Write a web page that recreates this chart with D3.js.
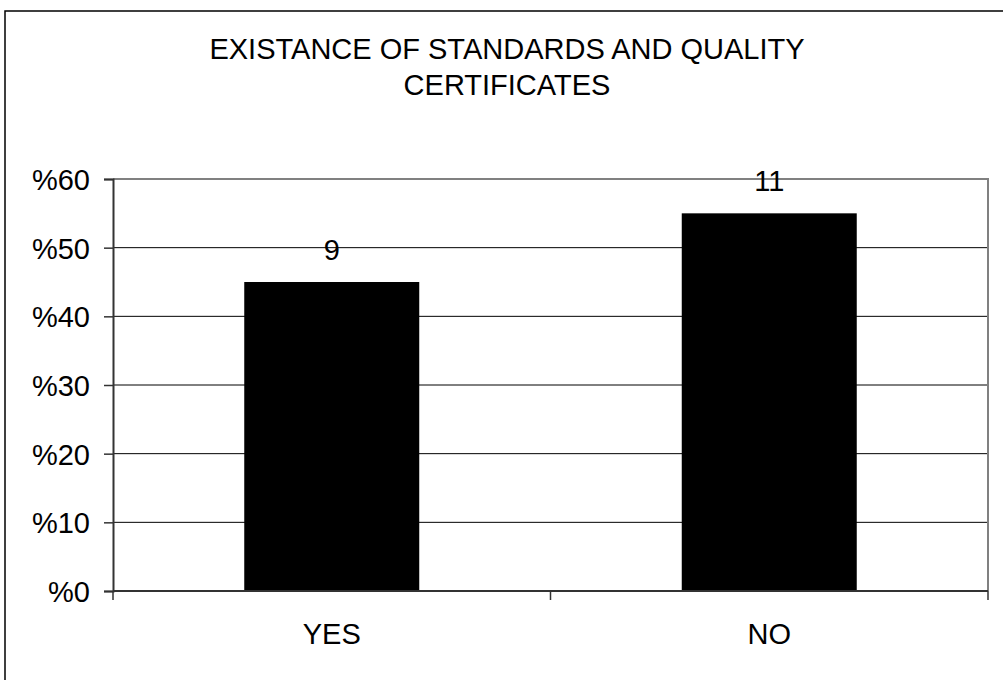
<!DOCTYPE html>
<html>
<head>
<meta charset="utf-8">
<script src="https://cdn.jsdelivr.net/npm/d3@7/dist/d3.min.js"></script>
<style>
  html, body { margin: 0; padding: 0; background: #fff; }
  svg { display: block; font-family: "Liberation Sans", Arial, sans-serif; }
</style>
</head>
<body>
<svg id="chart" width="1003" height="680"></svg>
<script>
// Answers to the survey question
const categories = ["YES", "NO"];
const counts = [9, 11];
const percents = [45, 55];
const yTicks = [0, 10, 20, 30, 40, 50, 60];
const titleLines = ["EXISTANCE OF STANDARDS AND QUALITY", "CERTIFICATES"];

const svg = d3.select("#chart");
const W = 1003, H = 680;
const plot = { left: 113, right: 988, top: 179, bottom: 591 };

// outer frame of the chart area
svg.append("rect")
  .attr("x", 5).attr("y", 11)
  .attr("width", W + 20).attr("height", H + 20)
  .attr("fill", "#fff").attr("stroke", "#000").attr("stroke-width", 1.5);

// title
const title = svg.append("text")
  .attr("text-anchor", "middle")
  .attr("font-size", 29)
  .attr("fill", "#000");
titleLines.forEach((t, i) => {
  title.append("tspan").attr("x", 507).attr("y", 59 + i * 36).text(t);
});

const x = d3.scaleBand()
  .domain(categories)
  .range([plot.left, plot.right])
  .paddingInner(0.6)
  .paddingOuter(0.3);

const y = d3.scaleLinear()
  .domain([0, 60])
  .range([plot.bottom, plot.top]);

// horizontal gridlines
svg.append("g")
  .selectAll("line")
  .data(yTicks.filter(d => d > 0 && d < 60))
  .join("line")
  .attr("x1", plot.left).attr("x2", plot.right)
  .attr("y1", d => y(d)).attr("y2", d => y(d))
  .attr("stroke", "#000").attr("stroke-width", 1);

// plot frame: top and right edges in grey
svg.append("path")
  .attr("d", `M${plot.left},${y(60)}H${plot.right}V${y(0)}`)
  .attr("fill", "none").attr("stroke", "#808080").attr("stroke-width", 2);

// bars
svg.append("g")
  .selectAll("rect")
  .data(categories)
  .join("rect")
  .attr("x", d => x(d))
  .attr("y", (d, i) => y(percents[i]))
  .attr("width", x.bandwidth())
  .attr("height", (d, i) => y(0) - y(percents[i]))
  .attr("fill", "#000");

// count labels above the bars
svg.append("g")
  .selectAll("text")
  .data(categories)
  .join("text")
  .attr("x", d => x(d) + x.bandwidth() / 2)
  .attr("y", (d, i) => y(percents[i]) - 22)
  .attr("text-anchor", "middle")
  .attr("font-size", 29)
  .attr("fill", "#000")
  .text((d, i) => counts[i]);

// y axis
const yAxis = svg.append("g")
  .attr("transform", `translate(${plot.left},0)`)
  .call(d3.axisLeft(y).tickValues(yTicks).tickSize(9).tickPadding(14)
    .tickFormat(d => "%" + d));
yAxis.select(".domain").attr("stroke", "#333").attr("stroke-width", 2);
yAxis.selectAll(".tick line").attr("stroke", "#333").attr("stroke-width", 1.5);
yAxis.selectAll(".tick text")
  .attr("font-size", 29).attr("font-family", "Liberation Sans, Arial, sans-serif")
  .attr("fill", "#000").attr("dy", "0.36em");

// x axis: ticks sit on the category boundaries
const xAxis = svg.append("g")
  .attr("transform", `translate(0,${plot.bottom})`);
xAxis.append("line")
  .attr("x1", plot.left).attr("x2", plot.right)
  .attr("stroke", "#333").attr("stroke-width", 2);
const boundaries = [plot.left]
  .concat(categories.map(c => x(c) + x.bandwidth() / 2 + x.step() / 2));
xAxis.selectAll("line.tick")
  .data(boundaries)
  .join("line")
  .attr("class", "tick")
  .attr("x1", d => d).attr("x2", d => d)
  .attr("y1", 0).attr("y2", 9)
  .attr("stroke", "#333").attr("stroke-width", 1.5);
xAxis.selectAll("text")
  .data(categories)
  .join("text")
  .attr("x", d => x(d) + x.bandwidth() / 2)
  .attr("y", 53)
  .attr("text-anchor", "middle")
  .attr("font-size", 29)
  .attr("fill", "#000")
  .text(d => d);
</script>
</body>
</html>
